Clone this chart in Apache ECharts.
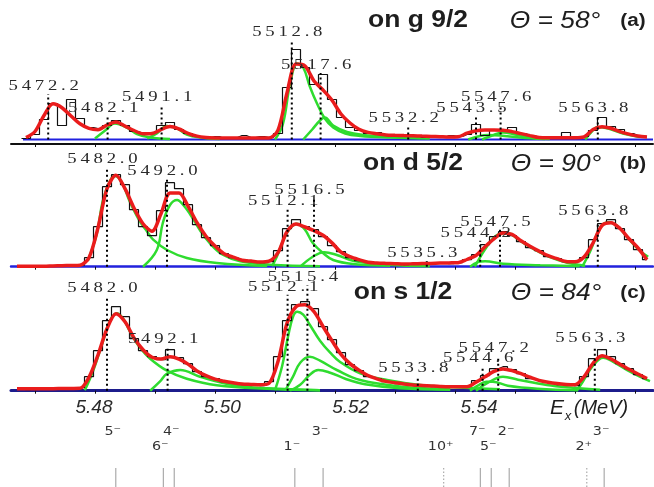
<!DOCTYPE html>
<html>
<head>
<meta charset="utf-8">
<script src="https://cdn.jsdelivr.net/npm/echarts@6/dist/echarts.min.js"></script>
<style>
html, body { margin: 0; padding: 0; background: #fff; }
#chart { width: 654px; height: 487px; }
</style>
</head>
<body>
<div id="chart"></div>
<script>
// bin centres (keV), shared by the three spectra
var energy = [5467, 5468.5, 5470, 5471.5, 5473, 5474.5, 5476, 5477.5, 5479, 5480.5,
  5482, 5483.5, 5485, 5486.5, 5488, 5489.5, 5491, 5492.5, 5494, 5495.5,
  5497, 5498.5, 5500, 5501.5, 5503, 5504.5, 5506, 5507.5, 5509, 5510.5,
  5512, 5513.5, 5515, 5516.5, 5518, 5519.5, 5521, 5522.5, 5524, 5525.5,
  5527, 5528.5, 5530, 5531.5, 5533, 5534.5, 5536, 5537.5, 5539, 5540.5,
  5542, 5543.5, 5545, 5546.5, 5548, 5549.5, 5551, 5552.5, 5554, 5555.5,
  5557, 5558.5, 5560, 5561.5, 5563, 5564.5, 5566, 5567.5, 5569, 5570.5, 5572];

// (a) on g 9/2
var histA = [null, 1, 5, 20, 36, 14, 40, 21, 12, 11,
  14, 19, 14, 8, 6, 7, 14, 17, 10, 6,
  3, 2, 3, 1, 2, 4, 2, 3, 2, 6,
  52, 90, 72, 55, 65, 40, 22, 12, 9, 6,
  7, 4, 5, 3, 4, 2, 3, 2, 4, 3,
  5, 15, 4, 10, 9, 12, 6, 4, 2, 3,
  2, 7, 2, 3, 9, 22, 13, 10, 6, 4, 3];
var fitA = [null, 2, 8, 24, 35.7, 31.8, 23.5, 15.7, 11.1, 9.8,
  14.5, 17.6, 13.4, 9, 5.7, 6, 9.9, 12.9, 10.5, 6.2,
  3.4, 2.1, 1.6, 1.5, 1.5, 1.5, 1.5, 1.5, 1.5, 9.4,
  46.5, 75.5, 73.6, 58.5, 49.5, 39.3, 25.5, 16.5, 10.2, 7.1,
  5.7, 4.6, 4.2, 3.9, 3.7, 3.4, 3.1, 2.8, 2.5, 2.7,
  6.3, 8.8, 9.5, 9.5, 9.3, 7.9, 5.9, 3.9, 2, 1.8,
  1.8, 1.8, 1.8, 2.6, 10, 12.8, 11.2, 7.9, 5.4, 3.4, 2.5];
var compA = [
  [[5480.0, 1], [5481.7, 9], [5483.3, 16], [5485.3, 12], [5487.0, 5.5], [5489.2, 2], [5492.5, 0.5]],
  [[5488.7, 1], [5490.3, 6], [5492.0, 13.5], [5493.7, 11], [5495.3, 5], [5497.5, 2], [5500.8, 0.5]],
  [[5510.0, 0], [5511.3, 15], [5512.5, 55], [5513.7, 76], [5514.7, 72], [5515.8, 53], [5517.0, 36], [5518.3, 21], [5519.7, 12], [5521.7, 6], [5524.2, 3.5], [5529.2, 2], [5535.8, 1]],
  [[5514.7, 0], [5516.2, 10], [5517.5, 19], [5518.3, 22], [5519.7, 14], [5522.0, 7.5], [5524.7, 4.5], [5528.7, 3], [5534.2, 1.5]],
  [[5542.2, 0], [5543.8, 3], [5545.5, 4.5], [5547.5, 4], [5550.8, 2], [5555.0, 0.5]],
  [[5544.5, 0], [5546.2, 4], [5548.0, 7], [5550.0, 5], [5552.5, 2], [5555.8, 0.5]],
  [[5561.7, 0], [5562.8, 8], [5563.8, 12.5], [5565.8, 10.5], [5568.0, 6], [5570.8, 2.5]]
];
var peaksA = [5472.2, 5482.1, 5491.1, 5512.8, 5517.6, 5532.2, 5543.5, 5547.6, 5563.8];
var peakTopA = [53.5, 31.5, 42.5, 107.5, 74.5, 21.5, 31.5, 42.5, 31.5];

// (b) on d 5/2
var histB = [0.5, 0.5, 0.5, 0.5, 1, 0.5, 1, 1.5, 9, 40,
  80, 92, 82, 57, 40, 31, 56, 84, 78, 62,
  42, 29, 21, 13, 9, 7, 5, 4, 5, 16,
  38, 47, 40, 37, 30, 21, 15, 9, 6, 4,
  4, 3, 3, 2, 3, 4, 3, 4, 3, 4,
  7, 12, 22, 30, 35, 31, 25, 19, 16, 10,
  8, 5, 5, 9, 27, 43, 47, 38, 27, 17, 7];
var fitB = [0.5, 0.5, 0.5, 0.5, 0.8, 1, 1.2, 1.5, 9, 39,
  78, 91.5, 78, 58.7, 43, 35.5, 53, 73.7, 73.8, 60.5,
  44, 30.5, 20.7, 13, 9.6, 6.5, 5.6, 4.7, 5.5, 14,
  35, 42.8, 39.7, 36, 31.4, 23.8, 14.5, 10, 7, 4.5,
  3.7, 3.3, 3, 2.7, 2.9, 3.1, 3.3, 3.6, 3.8, 4,
  7.2, 11.2, 19.9, 27.9, 33.7, 32.3, 26, 20.5, 15.6, 11,
  8, 5.3, 5, 9.7, 23.7, 41.2, 43.9, 38.2, 28, 18.7, 7];
var compB = [
  [[5478.8, 6], [5480.3, 33], [5481.3, 66], [5482.5, 86], [5483.3, 91], [5484.5, 84], [5485.8, 65], [5487.5, 45], [5488.7, 35], [5489.7, 27], [5492.0, 16.7], [5495.3, 8.7], [5500.3, 3.7], [5508.7, 0.7]],
  [[5488.0, 0], [5490.3, 16.7], [5491.3, 43.7], [5492.5, 61.7], [5493.7, 66.7], [5494.7, 61.7], [5495.8, 53], [5497.5, 36.5], [5499.2, 23], [5501.3, 12], [5504.2, 5.5], [5509.2, 2], [5517.5, 0.5]],
  [[5509.5, 0.5], [5510.3, 10], [5512.0, 34], [5513.7, 43], [5515.0, 37], [5516.3, 23.7], [5518.0, 13.7], [5519.7, 6.7], [5523.0, 2.7], [5529.2, 1]],
  [[5514.2, 0], [5516.3, 10], [5518.2, 14.5], [5520.3, 11.7], [5523.0, 6], [5528.7, 2], [5535.8, 0.5]],
  [[5542.5, 0], [5543.8, 4.5], [5545.0, 5.5], [5548.0, 3], [5554.2, 1.5], [5560.8, 0.5]],
  [[5543.3, 0], [5545.3, 20], [5547.0, 31.7], [5548.7, 33.7], [5550.8, 26], [5553.0, 18], [5555.8, 9.5], [5558.7, 4], [5561.7, 1]],
  [[5561.2, 0], [5562.5, 15], [5564.2, 39], [5565.5, 44.5], [5567.0, 41], [5568.7, 29.5], [5570.8, 16], [5572.2, 10]]
];
var peaksB = [5482.0, 5492.0, 5512.1, 5516.5, 5535.3, 5544.2, 5547.5, 5563.8];
var peakTopB = [107.7, 96, 66, 76.7, 13.7, 34, 45, 56];

// (c) on s 1/2
var histC = [2, 1, 3, 2, 3, 2, 2, 3, 14, 40,
  70, 84, 74, 52, 40, 34, 31, 41, 33, 27,
  19, 14, 12, 9, 8, 6, 7, 5, 9, 34,
  70, 86, 89, 82, 64, 51, 38, 26, 20, 14,
  12, 9, 7, 7, 5, 6, 4, 5, 4, 4,
  5, 10, 15, 22, 24, 21, 17, 12, 10, 8,
  6, 6, 5, 14, 32, 41, 34, 27, 22, 16, 12];
var fitC = [2, 2, 2, 2, 2, 2.2, 2.3, 2.4, 13.4, 35.7,
  62, 77, 68.9, 52.8, 41, 33.5, 31.7, 33.9, 31.6, 26.6,
  19.7, 15, 11.5, 9.5, 7.9, 6.6, 6.3, 6, 7.4, 29.2,
  67.4, 84, 85.9, 79, 64.2, 49.9, 36.4, 27.1, 20.5, 15.2,
  11.9, 9.3, 8, 6.8, 5.7, 5.3, 4.8, 4.3, 4, 4,
  4, 8.6, 13.9, 19.3, 21.8, 20.1, 17, 13.5, 10.3, 8.4,
  7.1, 6.3, 6, 13.9, 27.4, 34.9, 31.7, 26.5, 21.4, 16.7, 12.2];
var compC = [
  [[5478.3, 0.5], [5479.7, 20], [5481.2, 47], [5482.5, 70], [5483.7, 77.5], [5484.7, 72], [5486.2, 55], [5487.5, 43], [5489.2, 32], [5492.0, 20], [5495.3, 12], [5500.3, 5.5], [5508.7, 2], [5517.5, 0.5]],
  [[5489.2, 0], [5490.8, 9], [5492.0, 17], [5494.2, 20.7], [5497.5, 14], [5503.0, 5.7], [5508.7, 2.4], [5517.5, 0.5]],
  [[5510.0, 0.5], [5511.2, 25], [5512.2, 55], [5513.0, 74], [5513.7, 79], [5514.7, 76], [5515.8, 66], [5517.5, 50], [5519.2, 38], [5520.8, 29], [5524.2, 17.4], [5528.7, 10.7], [5534.2, 5.7], [5539.7, 3.4], [5547.5, 1.5]],
  [[5511.7, 0], [5513.0, 14], [5514.2, 28], [5515.8, 34], [5517.5, 30], [5520.3, 20.7], [5524.2, 10.7], [5531.3, 4], [5539.2, 1.5]],
  [[5512.5, 0], [5514.2, 6], [5515.8, 16], [5517.2, 20.7], [5519.2, 18], [5521.7, 12], [5525.0, 6.5], [5530.8, 2.5], [5539.2, 1]],
  [[5542.5, 0], [5543.8, 5], [5545.2, 9], [5546.3, 9], [5548.8, 5], [5553.8, 2], [5560.5, 0.5]],
  [[5543.5, 0], [5545.5, 8], [5548.0, 14], [5550.5, 11], [5555.3, 5.7], [5559.7, 3], [5564.2, 1]],
  [[5560.3, 0], [5561.3, 9], [5563.0, 25], [5564.7, 33], [5566.3, 29], [5568.7, 20.5], [5570.8, 14], [5572.5, 9.5]]
];
var peaksC = [5482.0, 5492.1, 5512.1, 5515.4, 5533.8, 5544.6, 5547.2, 5563.3];
var peakTopC = [102.4, 51.4, 104, 113.4, 22.4, 32.4, 42.4, 52.4];

// level scheme (MeV)
var levelE = [5.4834, 5.4908, 5.4925, 5.5113, 5.5157, 5.5345, 5.5402, 5.5419, 5.5447, 5.5568, 5.5595];
var levelSpin = ['5⁻', '6⁻', '4⁻', '1⁻', '3⁻', '10⁺', '7⁻', '5⁻', '2⁻', '2⁺', '3⁻'];
var levelRow = [1, 2, 1, 2, 1, 2, 1, 2, 1, 2, 1];
var levelDotted = [0, 0, 0, 0, 0, 1, 0, 0, 0, 1, 0];

var keVTicks = [5470, 5480, 5490, 5500, 5510, 5520, 5530, 5540, 5550, 5560, 5570];
var MeVLabels = [5.48, 5.50, 5.52, 5.54];

var chart = echarts.init(document.getElementById('chart'));

var RED = '#ea1c1c', GREEN = '#2fdc2f', BLUE = '#2121e0';

function pairs(vals) {
  return energy.map(function (e, i) { return [e, vals[i]]; });
}

function txt(x, y, s, font, opts) {
  var o = { type: 'text', x: x, y: y, style: { text: s, font: font, fill: '#1e1e1e',
    align: 'center', verticalAlign: 'middle', textAlign: 'center', textVerticalAlign: 'middle' } };
  if (opts) { for (var k in opts) o[k] = opts[k]; }
  return o;
}

function peakRender(params, api) {
  var e = api.value(0);
  var base = api.coord([e, 0]);
  var top = api.coord([e, api.value(1)]);
  // the figure's labels are printed wide and loosely spaced
  var s = e.toFixed(1).split('').join('\u2009');
  return {
    type: 'group',
    children: [
      { type: 'line', shape: { x1: base[0], y1: base[1], x2: base[0], y2: top[1] + 8 },
        style: { stroke: '#000', lineWidth: 2, lineDash: [2, 3] } },
      { type: 'text', x: top[0] - 4.5, y: top[1], scaleX: 1.25,
        style: { text: s, font: '15px "Liberation Serif"', fill: '#2a2a2a',
          align: 'center', verticalAlign: 'middle', textAlign: 'center', textVerticalAlign: 'middle' } }
    ]
  };
}

function levelRender(params, api) {
  var e = api.value(0);
  var b = api.coord([e, 0]);
  var t = api.coord([e, 19]);
  var l = api.coord([e, api.value(1) === 1 ? 55 : 40]);
  return {
    type: 'group',
    children: [
      { type: 'line', shape: { x1: b[0], y1: b[1], x2: t[0], y2: t[1] },
        style: { stroke: '#9a9a9a', lineWidth: 1, lineDash: api.value(2) ? [1.5, 2] : null } },
      { type: 'text', x: l[0] - 3, y: l[1], scaleX: 1.1,
        style: { text: levelSpin[params.dataIndex], font: '13px "DejaVu Sans"', fill: '#333',
          align: 'center', verticalAlign: 'middle', textAlign: 'center', textVerticalAlign: 'middle' } }
    ]
  };
}

function dataAxis(grid, color, width) {
  return {
    type: 'value', gridIndex: grid, min: 5466, max: 5573, position: 'bottom',
    axisLine: { show: true, onZero: false, lineStyle: { color: color, width: width } },
    axisTick: { show: true, customValues: keVTicks, length: 3, inside: false, lineStyle: { color: '#111' } },
    axisLabel: { show: false },
    splitLine: { show: false }
  };
}

function panelSeries(k, hist, fit, comps, peaks, tops) {
  var out = [];
  comps.forEach(function (c) {
    out.push({ type: 'line', xAxisIndex: k, yAxisIndex: k, data: c, smooth: 0.4,
      symbol: 'none', lineStyle: { color: GREEN, width: 2.5 }, z: 3, silent: true });
  });
  out.push({ type: 'line', xAxisIndex: k, yAxisIndex: k, data: pairs(hist), step: 'middle',
    symbol: 'none', lineStyle: { color: '#111', width: 1.2 }, z: 4, silent: true });
  out.push({ type: 'line', xAxisIndex: k, yAxisIndex: k, data: pairs(fit), smooth: 0.3,
    symbol: 'none', lineStyle: { color: RED, width: 3.5 }, z: 5, silent: true });
  out.push({ type: 'custom', xAxisIndex: k, yAxisIndex: k, clip: false, z: 6, silent: true,
    data: peaks.map(function (p, i) { return [p, tops[i]]; }), renderItem: peakRender });
  return out;
}

var series = [
  { type: 'line', xAxisIndex: 0, yAxisIndex: 0, data: [[5468, 0], [5573, 0]], symbol: 'none',
    lineStyle: { color: BLUE, width: 2 }, z: 2, silent: true }
];
series = series.concat(panelSeries(0, histA, fitA, compA, peaksA, peakTopA));
series = series.concat(panelSeries(1, histB, fitB, compB, peaksB, peakTopB));
series = series.concat(panelSeries(2, histC, fitC, compC, peaksC, peakTopC));
series.push({ type: 'custom', xAxisIndex: 4, yAxisIndex: 3, clip: false, silent: true,
  data: levelE.map(function (e, i) { return [e, levelRow[i], levelDotted[i]]; }),
  renderItem: levelRender });

var option = {
  animation: false,
  backgroundColor: '#fff',
  grid: [
    { left: 11, right: 1, top: 20, height: 124 },
    { left: 11, right: 1, top: 150, height: 116.7 },
    { left: 11, right: 1, top: 270, height: 120.7 },
    { left: 11, right: 1, top: 420, height: 67 }
  ],
  xAxis: [
    dataAxis(0, '#111', 2),
    dataAxis(1, '#2222dd', 2.5),
    dataAxis(2, '#1c1c8c', 3),
    {
      type: 'value', gridIndex: 2, min: 5.467066, max: 5.567112, position: 'bottom',
      axisLine: { show: false }, axisTick: { show: false }, splitLine: { show: false },
      axisLabel: { customValues: MeVLabels, margin: 8, fontSize: 19, fontStyle: 'italic',
        fontFamily: 'Liberation Sans', color: '#2a2a2a',
        formatter: function (v) { return v.toFixed(2); } }
    },
    { type: 'value', gridIndex: 3, min: 5.467066, max: 5.567112, show: false }
  ],
  yAxis: [
    { type: 'value', gridIndex: 0, min: -4.5, max: 119.5, show: false },
    { type: 'value', gridIndex: 1, min: 0, max: 116.7, show: false },
    { type: 'value', gridIndex: 2, min: 0, max: 120.7, show: false },
    { type: 'value', gridIndex: 3, min: 0, max: 67, show: false }
  ],
  graphic: [
    txt(418, 21, 'on g 9/2', 'bold 23px "Liberation Sans"', { scaleX: 1.15 }),
    txt(555, 21, 'Θ = 58°', 'italic 24px "Liberation Sans"', { scaleX: 1.1 }),
    txt(633, 21, '(a)', 'bold 18px "Liberation Sans"', { scaleX: 1.15 }),
    txt(413, 164, 'on d 5/2', 'bold 23px "Liberation Sans"', { scaleX: 1.15 }),
    txt(556, 164, 'Θ = 90°', 'italic 24px "Liberation Sans"', { scaleX: 1.1 }),
    txt(633, 164, '(b)', 'bold 18px "Liberation Sans"', { scaleX: 1.15 }),
    txt(403, 293, 'on s 1/2', 'bold 23px "Liberation Sans"', { scaleX: 1.15 }),
    txt(556, 293, 'Θ = 84°', 'italic 24px "Liberation Sans"', { scaleX: 1.1 }),
    txt(633, 293, '(c)', 'bold 18px "Liberation Sans"', { scaleX: 1.15 }),
    txt(557, 408, 'E', 'italic 21px "Liberation Sans"'),
    txt(568, 416, 'x', 'italic 13px "Liberation Sans"'),
    txt(601, 408, '(MeV)', 'italic 20px "Liberation Sans"')
  ],
  series: series
};

chart.setOption(option);
</script>
</body>
</html>
